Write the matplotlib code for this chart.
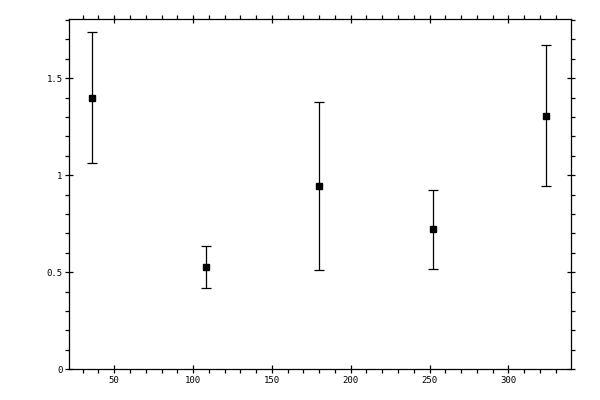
import matplotlib
matplotlib.use("Agg")
import matplotlib.pyplot as plt
from matplotlib.ticker import MultipleLocator, FormatStrFormatter

# values
x_vals = [36, 108, 180, 252, 324]
y_vals = [1.40, 0.526, 0.943, 0.722, 1.306]
y_err = [0.338, 0.108, 0.433, 0.203, 0.363]

x_ticks = [50, 100, 150, 200, 250, 300]
y_ticks = [0, 0.5, 1, 1.5]
y_tick_labels = ["0", "0.5", "1", "1.5"]

fig = plt.figure(figsize=(6, 4), dpi=100)
ax = fig.add_axes([0.1155, 0.077, 0.8355, 0.875])

ax.errorbar(x_vals, y_vals, yerr=y_err, fmt="s", color="black",
            markersize=5, capsize=3.6, elinewidth=0.9, capthick=0.9)

ax.set_xlim(21.5, 339.5)
ax.set_ylim(0, 1.804)

ax.set_xticks(x_ticks)
ax.set_yticks(y_ticks)
ax.set_yticklabels(y_tick_labels)
ax.xaxis.set_minor_locator(MultipleLocator(10))
ax.yaxis.set_minor_locator(MultipleLocator(0.1))

for sp in ax.spines.values():
	sp.set_linewidth(0.9)

ax.tick_params(which="major", direction="inout", length=5.8, width=0.9,
               top=True, right=True, labelsize=6.5, pad=2)
ax.tick_params(which="minor", direction="out", length=2.9, width=0.9,
               top=True, right=True)
for lab in ax.get_xticklabels() + ax.get_yticklabels():
	lab.set_family("DejaVu Sans Mono")

fig.savefig("out.png", dpi=100)
